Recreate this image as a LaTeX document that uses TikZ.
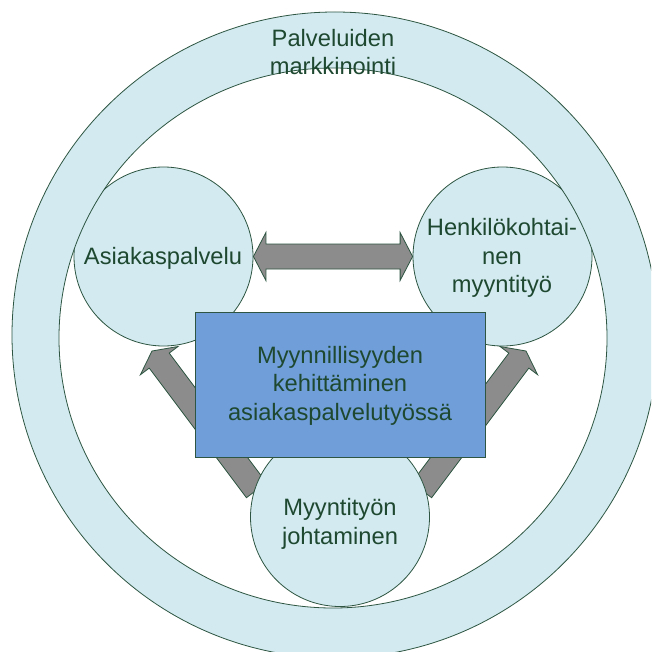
\documentclass[tikz,border=0pt]{standalone}
\usepackage{fontspec}
\setmainfont{Liberation Sans}
\usetikzlibrary{calc}
\definecolor{ringfill}{RGB}{210,234,240}
\definecolor{boxfill}{RGB}{112,158,216}
\definecolor{arrowgray}{RGB}{140,140,140}
\definecolor{edgecol}{RGB}{45,85,65}
\definecolor{txtcol}{RGB}{30,72,48}
\newcommand\blockarrow[2]{%
  \coordinate (hb) at ($(#2)!12pt!(#1)$);
  \draw[blockarr] ($(#1)!12.5pt!90:(#2)$) -- ($(hb)!12.5pt!-90:(#1)$) -- ($(hb)!23.5pt!-90:(#1)$) -- (#2) -- ($(hb)!23.5pt!90:(#1)$) -- ($(hb)!12.5pt!90:(#1)$) -- ($(#1)!12.5pt!-90:(#2)$) -- cycle;}
\newcommand\twowayarrow[2]{%
  \coordinate (ha) at ($(#1)!12.5pt!(#2)$);
  \coordinate (hb) at ($(#2)!12.5pt!(#1)$);
  \draw[blockarr] (#1) -- ($(ha)!24pt!90:(#2)$) -- ($(ha)!12.5pt!90:(#2)$) -- ($(hb)!12.5pt!-90:(#1)$) -- ($(hb)!24pt!-90:(#1)$) -- (#2) -- ($(hb)!24pt!90:(#1)$) -- ($(hb)!12.5pt!90:(#1)$) -- ($(ha)!12.5pt!-90:(#2)$) -- ($(ha)!24pt!-90:(#2)$) -- cycle;}
\begin{document}
\begin{tikzpicture}[x=1pt,y=-1pt,
  bubble/.style={circle, draw=edgecol, fill=ringfill, line width=0.8pt, minimum size=179pt, inner sep=0pt},
  txt/.style={text=txtcol, font=\fontsize{23.7}{28.5}\selectfont, align=center, inner sep=0pt},
  blockarr/.style={fill=arrowgray, draw=edgecol, line width=0.8pt, line join=miter},
  corebox/.style={draw=edgecol, fill=boxfill, line width=0.8pt, minimum width=290.5pt, minimum height=145.2pt, inner sep=0pt},
  ringstyle/.style={fill=ringfill, draw=edgecol, even odd rule, line width=0.8pt}]
\clip (0,0) rectangle (651,652);
\fill[white] (0,0) rectangle (651,652);
% top circles
\node[bubble] (asia) at (163.5,256.5) {};
\node[bubble] (henk) at (502.5,256.5) {};
% diagonal arrows
\coordinate (lt) at (256.4,490.2);
\coordinate (lh) at (152,351);
\coordinate (rt) at (421.6,490.2);
\coordinate (rh) at (526,351);
\blockarrow{lt}{lh}
\blockarrow{rt}{rh}
% double arrow
\twowayarrow{asia.east}{henk.west}
% bottom circle
\node[bubble] (johto) at (340,517) {};
% ring
\path[ringstyle] (335,335) circle[radius=323] (333,338) ellipse[x radius=274, y radius=270];
% central box
\node[corebox] (core) at (340.25,385.1) {};
% texts
\node[txt] (tring) at (333,51.9) {Palveluiden\\markkinointi};
\node[txt] (tasia) at (163,258.3) {Asiakaspalvelu};
\node[txt] (thenk) at (502,258.3) {Henkilökohtai-\\nen\\myyntityö};
\node[txt] (tcore) at (340,385.5) {Myynnillisyyden\\kehittäminen\\asiakaspalvelutyössä};
\node[txt] (tjohto) at (340,524.1) {Myyntityön\\johtaminen};
\end{tikzpicture}
\end{document}
